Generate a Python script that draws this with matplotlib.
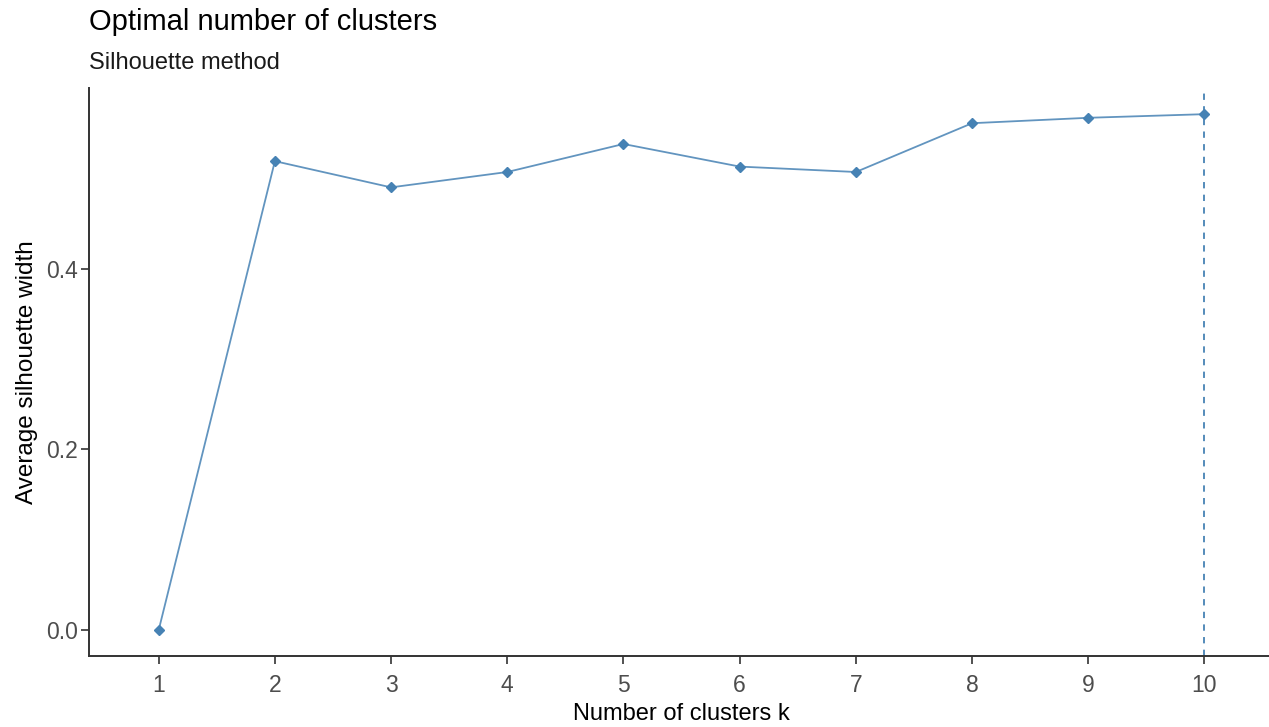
import matplotlib
matplotlib.use("Agg")
import matplotlib.pyplot as plt

# Silhouette scores per k
k_values = [1, 2, 3, 4, 5, 6, 7, 8, 9, 10]
sil_width = [0.0, 0.519, 0.490, 0.507, 0.538, 0.513, 0.507, 0.561, 0.567, 0.571]
best_k = 10
y_ticks = [0.0, 0.2, 0.4]

plt.rcParams["font.family"] = ["Liberation Sans", "DejaVu Sans"]

LINE = "#4682B4"  # steelblue

fig = plt.figure(figsize=(12.69, 7.27), dpi=100)
ax = fig.add_axes([0.0701, 0.0977, 0.934, 0.7813])

ax.plot(k_values, sil_width, color=LINE, linewidth=1.3, alpha=0.85, zorder=3)
ax.plot(k_values, sil_width, linestyle="none", marker="D", markersize=5,
        markerfacecolor=LINE, markeredgecolor=LINE, zorder=4)
ax.axvline(best_k, color=LINE, linestyle=(0, (3.5, 3.5)), linewidth=1.3, zorder=2)

ax.set_xlim(0.4, 10.6)
ax.set_ylim(-0.0286, 0.6)
ax.set_xticks(k_values)
ax.set_yticks(y_ticks)
ax.set_yticklabels([f"{v:.1f}" for v in y_ticks])

for side in ("top", "right"):
    ax.spines[side].set_visible(False)
for side in ("left", "bottom"):
    ax.spines[side].set_color("#333333")
    ax.spines[side].set_linewidth(1.4)

ax.tick_params(axis="both", length=6, width=1.2, color="#333333",
               labelsize=16.5, labelcolor="#4D4D4D")
ax.tick_params(axis="x", pad=7)
ax.tick_params(axis="y", pad=2)

ax.set_xlabel("Number of clusters k", fontsize=17, color="black", labelpad=4)
ax.set_ylabel("Average silhouette width", fontsize=17.5, color="black", labelpad=6)

fig.text(0.0705, 0.97, "Optimal number of clusters", fontsize=21, ha="left", va="center")
fig.text(0.0705, 0.913, "Silhouette method", fontsize=17, ha="left", va="center", color="#1a1a1a")

fig.savefig("out.png", dpi=100)
